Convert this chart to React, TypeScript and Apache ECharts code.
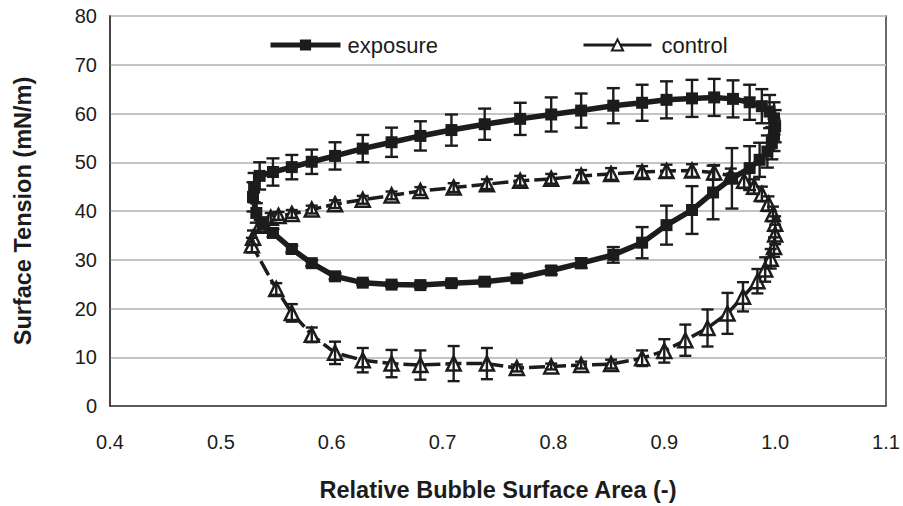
import React, { useEffect, useRef } from "react";
import * as echarts from "echarts";

const xTicks = [0.4, 0.5, 0.6, 0.7, 0.8, 0.9, 1.0, 1.1];
const yTicks = [0, 10, 20, 30, 40, 50, 60, 70, 80];

const exposureX = [0.530, 0.535, 0.547, 0.564, 0.582, 0.603, 0.628, 0.654, 0.680, 0.708, 0.738, 0.770, 0.798, 0.825, 0.854, 0.880, 0.902, 0.925, 0.945, 0.962, 0.977, 0.988, 0.995, 0.999, 1.000, 0.999, 0.997, 0.993, 0.986, 0.977, 0.961, 0.944, 0.925, 0.902, 0.880, 0.854, 0.825, 0.798, 0.767, 0.738, 0.708, 0.680, 0.654, 0.628, 0.603, 0.582, 0.564, 0.547, 0.538, 0.532, 0.529];
const exposureY = [44.8, 47.2, 48.0, 49.0, 50.1, 51.3, 52.8, 54.1, 55.4, 56.6, 57.8, 58.9, 59.8, 60.6, 61.6, 62.2, 62.8, 63.1, 63.3, 63.0, 62.3, 61.5, 60.4, 59.0, 57.4, 55.6, 53.9, 52.2, 50.5, 48.8, 46.7, 43.8, 40.2, 37.1, 33.5, 31.0, 29.3, 27.8, 26.2, 25.5, 25.2, 24.8, 24.9, 25.3, 26.6, 29.3, 32.2, 35.5, 37.5, 39.6, 42.9];
const exposureErr = [3.0, 2.8, 2.8, 2.5, 2.5, 2.8, 2.8, 3.0, 3.0, 3.2, 3.2, 3.3, 3.5, 3.5, 3.6, 3.7, 3.8, 3.8, 3.8, 3.8, 3.6, 3.5, 3.4, 3.3, 3.3, 3.3, 3.3, 3.3, 3.5, 4.5, 6.2, 5.5, 4.9, 4.0, 3.2, 1.6, 1.0, 0.8, 0.8, 0.6, 0.6, 0.5, 0.5, 0.5, 0.6, 0.6, 0.7, 0.8, 1.2, 2.0, 3.0];

const controlX = [0.529, 0.535, 0.545, 0.552, 0.564, 0.582, 0.603, 0.628, 0.654, 0.680, 0.710, 0.740, 0.770, 0.798, 0.825, 0.852, 0.880, 0.902, 0.925, 0.945, 0.960, 0.972, 0.981, 0.988, 0.994, 0.998, 1.000, 1.000, 0.999, 0.996, 0.991, 0.984, 0.971, 0.957, 0.939, 0.919, 0.900, 0.880, 0.852, 0.825, 0.798, 0.767, 0.740, 0.710, 0.680, 0.654, 0.628, 0.603, 0.582, 0.564, 0.550, 0.528];
const controlY = [34.5, 37.0, 38.6, 39.0, 39.4, 40.3, 41.4, 42.3, 43.2, 44.1, 44.8, 45.5, 46.2, 46.6, 47.2, 47.6, 48.0, 48.2, 48.3, 47.9, 47.2, 46.2, 45.0, 43.5, 41.5, 39.4, 37.4, 35.2, 32.6, 30.2, 28.0, 25.6, 22.4, 19.0, 16.0, 13.5, 11.3, 9.8, 8.6, 8.4, 8.1, 7.8, 8.7, 8.7, 8.4, 8.7, 9.4, 10.9, 14.6, 19.1, 24.0, 33.0];
const controlErr = [1.5, 1.2, 1.0, 0.8, 0.8, 0.8, 0.8, 0.8, 0.8, 0.8, 0.9, 1.0, 1.0, 1.0, 1.2, 1.2, 1.2, 1.3, 1.3, 1.5, 1.5, 1.5, 1.5, 1.5, 1.5, 1.5, 1.5, 2.0, 2.0, 2.0, 2.5, 2.5, 3.0, 4.2, 3.8, 3.2, 2.4, 1.6, 0.9, 0.7, 0.6, 0.7, 3.2, 3.6, 3.0, 2.8, 2.5, 2.3, 1.5, 1.8, 1.2, 1.5];

const INK = "#1c1c1c";
const FONT = "'Liberation Sans', Arial, sans-serif";

function errorBar(capHalf: number) {
  return (params: any, api: any) => {
    const x = api.value(0);
    const y = api.value(1);
    const e = api.value(2);
    const top = api.coord([x, y + e]);
    const bot = api.coord([x, y - e]);
    const style = { stroke: INK, lineWidth: 2.4 };
    return {
      type: "group",
      children: [
        { type: "line", shape: { x1: top[0], y1: top[1], x2: bot[0], y2: bot[1] }, style },
        { type: "line", shape: { x1: top[0] - capHalf, y1: top[1], x2: top[0] + capHalf, y2: top[1] }, style },
        { type: "line", shape: { x1: bot[0] - capHalf, y1: bot[1], x2: bot[0] + capHalf, y2: bot[1] }, style },
      ],
    };
  };
}

export default function App() {
  const ref = useRef<HTMLDivElement>(null);
  useEffect(() => {
    if (!ref.current) return;
    const chart = echarts.init(ref.current, null, { renderer: "svg" });
    const expData = exposureX.map((x, i) => [x, exposureY[i], exposureErr[i]]);
    const ctlData = controlX.map((x, i) => [x, controlY[i], controlErr[i]]);
    chart.setOption({
      animation: false,
      backgroundColor: "#fff",
      textStyle: { fontFamily: FONT },
      grid: {
        left: 110,
        right: 17,
        top: 16,
        bottom: 100,
        outerBoundsMode: "none",
        containLabel: false,
        show: true,
        borderColor: "#3a3a3a",
        borderWidth: 1.5,
        backgroundColor: "transparent",
      },
      legend: [
        {
          data: ["exposure"],
          left: 268,
          top: 34,
          padding: 0,
          itemWidth: 70,
          itemHeight: 14,
          textStyle: { fontSize: 22, color: INK, fontFamily: FONT, padding: [0, 0, 0, 2] },
          lineStyle: { width: 5 },
        },
        {
          data: ["control"],
          left: 582,
          top: 34,
          padding: 0,
          itemWidth: 68,
          itemHeight: 14,
          textStyle: { fontSize: 22, color: INK, fontFamily: FONT, padding: [0, 0, 0, 5] },
          lineStyle: { type: "solid", width: 3 },
        },
      ],
      xAxis: {
        type: "value",
        min: xTicks[0],
        max: xTicks[xTicks.length - 1],
        interval: 0.1,
        name: "Relative Bubble Surface Area (-)",
        nameLocation: "middle",
        nameGap: 72,
        nameTextStyle: { fontSize: 23.5, fontWeight: "bold", color: INK, fontFamily: FONT },
        axisLine: { show: true, lineStyle: { color: "#3a3a3a", width: 1.5 } },
        axisTick: { show: false },
        splitLine: { show: false },
        axisLabel: {
          fontSize: 20,
          color: INK,
          margin: 26,
          formatter: (v: number) => v.toFixed(1),
        },
      },
      yAxis: {
        type: "value",
        min: yTicks[0],
        max: yTicks[yTicks.length - 1],
        interval: 10,
        name: "Surface Tension (mN/m)",
        nameLocation: "middle",
        nameGap: 75,
        nameTextStyle: { fontSize: 23.5, fontWeight: "bold", color: INK, fontFamily: FONT },
        axisLine: { show: true, lineStyle: { color: "#3a3a3a", width: 1.5 } },
        axisTick: { show: false },
        splitLine: { show: true, lineStyle: { color: "#c4c4c8", width: 2 } },
        axisLabel: { fontSize: 20, color: INK, margin: 13 },
      },
      series: [
        {
          name: "control",
          type: "line",
          data: ctlData,
          symbol: "triangle",
          symbolSize: 14,
          lineStyle: { color: INK, width: 3.5, type: [16, 5] },
          itemStyle: { color: "#fff", borderColor: INK, borderWidth: 2.5 },
          z: 3,
        },
        {
          name: "exposure",
          type: "line",
          data: expData,
          symbol: "rect",
          symbolSize: 12,
          lineStyle: { color: INK, width: 5.5 },
          itemStyle: { color: INK, borderColor: INK, borderWidth: 0 },
          z: 4,
        },
        {
          name: "controlErr",
          type: "custom",
          data: ctlData,
          encode: { x: 0, y: 1 },
          renderItem: errorBar(6),
          z: 5,
        },
        {
          name: "exposureErr",
          type: "custom",
          data: expData,
          encode: { x: 0, y: 1 },
          renderItem: errorBar(6.5),
          z: 6,
        },
      ],
    });
    return () => chart.dispose();
  }, []);
  return (
    <div
      ref={ref}
      style={{ position: "fixed", left: 0, top: 0, width: 903, height: 506 }}
    />
  );
}
